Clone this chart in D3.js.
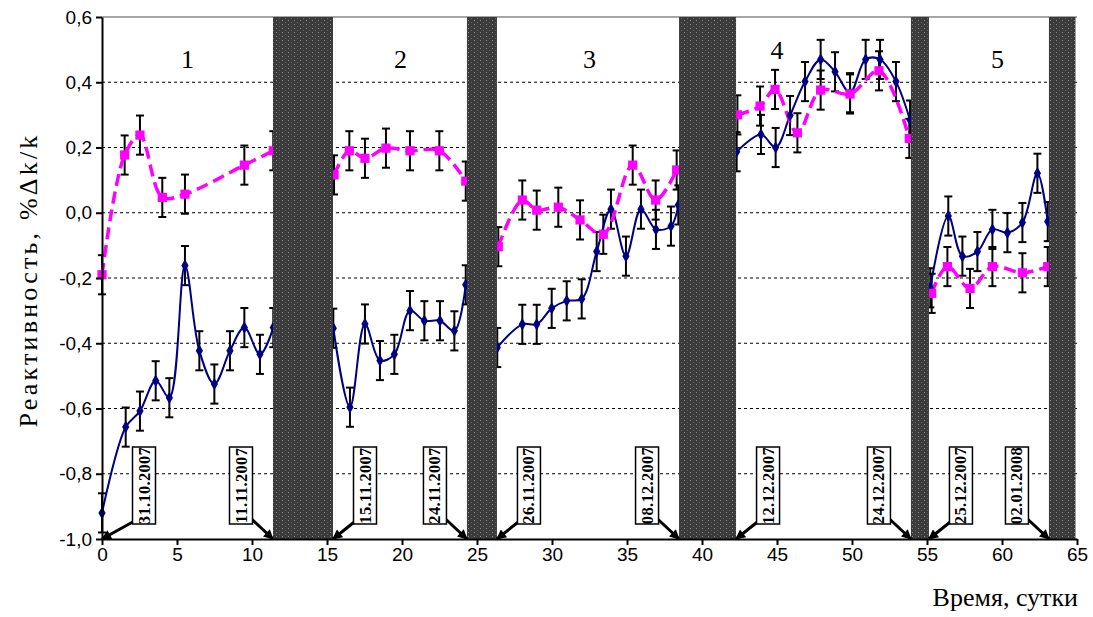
<!DOCTYPE html>
<html>
<head>
<meta charset="utf-8">
<script src="https://cdn.jsdelivr.net/npm/d3@7"></script>
<style>
body { margin: 0; background: #fff; }
.axis text { font: 19px "Liberation Sans", Arial, sans-serif; fill: #000; }
.axis path, .axis line { stroke: #000; stroke-width: 2px; }
.title { font-family: "Liberation Serif", "Times New Roman", serif; font-size: 26px; }
.datelbl { font: bold 16.5px "Liberation Serif", "Times New Roman", serif; letter-spacing: 0.3px; }
</style>
</head>
<body>
<svg id="chart" width="1093" height="617"></svg>
<script>
// ---- данные ----
var xTicks = [0, 5, 10, 15, 20, 25, 30, 35, 40, 45, 50, 55, 60, 65];
var yTicks = [-1.0, -0.8, -0.6, -0.4, -0.2, 0.0, 0.2, 0.4, 0.6];
var gridValues = [-0.8, -0.6, -0.4, -0.2, 0.0, 0.2, 0.4];

// периоды измерений (сутки) и остановки между ними
var segDays = [[0, 11.4], [15.4, 24.33], [26.33, 38.47], [42.27, 53.93], [55.13, 63.13]];
var pauseBands = [[11.4, 15.4], [24.33, 26.33], [38.47, 42.27], [53.93, 55.13], [63.13, 64.9]];
var segNames = ["1", "2", "3", "4", "5"];
var segNameDay = [5.7, 19.9, 32.5, 45.0, 59.7];
var segNameVal = [0.444, 0.444, 0.444, 0.471, 0.444];
var dateTexts = ["31.10.2007", "11.11.2007", "15.11.2007", "24.11.2007", "26.11.2007",
                 "08.12.2007", "12.12.2007", "24.12.2007", "25.12.2007", "02.01.2008"];

// [сутки, реактивность, погрешность]
var blue = [
  [[0, -0.92, 0.06], [1.58, -0.657, 0.06], [2.53, -0.608, 0.06], [3.58, -0.515, 0.06], [4.49, -0.567, 0.06],
   [5.53, -0.162, 0.06], [6.49, -0.423, 0.06], [7.49, -0.525, 0.06], [8.53, -0.423, 0.06], [9.49, -0.352, 0.06],
   [10.53, -0.434, 0.06], [11.42, -0.352, 0.06]],
  [[15.42, -0.354, 0.06], [16.53, -0.596, 0.06], [17.53, -0.341, 0.06], [18.53, -0.453, 0.06], [19.49, -0.434, 0.06],
   [20.53, -0.30, 0.06], [21.49, -0.331, 0.06], [22.53, -0.331, 0.06], [23.49, -0.362, 0.06], [24.25, -0.221, 0.06]],
  [[26.35, -0.413, 0.06], [28.02, -0.342, 0.06], [28.98, -0.342, 0.06], [29.98, -0.293, 0.06], [30.98, -0.27, 0.06],
   [31.98, -0.264, 0.06], [32.98, -0.119, 0.06], [33.93, 0.011, 0.06], [34.93, -0.133, 0.06], [35.93, 0.011, 0.06],
   [36.93, -0.051, 0.06], [37.93, -0.041, 0.06], [38.42, 0.024, 0.06]],
  [[42.31, 0.187, 0.06], [43.93, 0.24, 0.06], [44.91, 0.20, 0.06], [45.87, 0.298, 0.06], [46.87, 0.402, 0.06],
   [47.91, 0.47, 0.06], [48.87, 0.432, 0.06], [49.87, 0.368, 0.06], [50.91, 0.47, 0.06], [51.87, 0.47, 0.06],
   [52.93, 0.402, 0.06], [53.87, 0.284, 0.06]],
  [[55.22, -0.23, 0.06], [56.42, -0.01, 0.06], [57.36, -0.133, 0.06], [58.36, -0.119, 0.06], [59.36, -0.051, 0.06],
   [60.36, -0.061, 0.06], [61.36, -0.03, 0.06], [62.36, 0.121, 0.06], [63.05, -0.027, 0.06]]
];

var magenta = [
  [[0, -0.19, 0.06], [1.51, 0.177, 0.06], [2.53, 0.238, 0.06], [4.02, 0.047, 0.06], [5.53, 0.057, 0.06],
   [9.49, 0.146, 0.06], [11.42, 0.19, 0.06]],
  [[15.47, 0.116, 0.06], [16.49, 0.19, 0.06], [17.53, 0.167, 0.06], [18.93, 0.198, 0.06], [20.53, 0.19, 0.06],
   [22.49, 0.19, 0.06], [24.25, 0.097, 0.06]],
  [[26.42, -0.104, 0.06], [28.02, 0.039, 0.06], [28.98, 0.008, 0.06], [30.42, 0.017, 0.06], [31.87, -0.022, 0.06],
   [33.42, -0.066, 0.06], [35.38, 0.146, 0.06], [36.91, 0.039, 0.06], [38.31, 0.131, 0.06]],
  [[42.36, 0.30, 0.06], [43.87, 0.327, 0.06], [44.87, 0.378, 0.06], [46.36, 0.245, 0.06], [47.91, 0.376, 0.06],
   [49.87, 0.364, 0.06], [51.8, 0.435, 0.06], [53.82, 0.228, 0.06]],
  [[55.31, -0.247, 0.06], [56.36, -0.165, 0.06], [57.87, -0.232, 0.06], [59.36, -0.165, 0.06], [61.36, -0.184, 0.06],
   [63.05, -0.165, 0.06]]
];

// ---- построение ----
var svg = d3.select("#chart");
svg.append("rect").attr("width", 1093).attr("height", 617).attr("fill", "#fff");

var x = d3.scaleLinear().domain([0, 65]).range([102, 1077]);
var y = d3.scaleLinear().domain([-1, 0.6]).range([539, 17]);

var defs = svg.append("defs");
var pat = defs.append("pattern").attr("id", "hatch")
    .attr("patternUnits", "userSpaceOnUse").attr("width", 6).attr("height", 4);
pat.append("rect").attr("width", 6).attr("height", 4).attr("fill", "#3b3b3b");
pat.append("rect").attr("x", 0).attr("y", 0).attr("width", 1).attr("height", 1).attr("fill", "#8c8c8c");
pat.append("rect").attr("x", 3).attr("y", 2).attr("width", 1).attr("height", 1).attr("fill", "#666");

defs.append("marker").attr("id", "arr")
    .attr("viewBox", "0 0 10 10").attr("refX", 9).attr("refY", 5)
    .attr("markerWidth", 12).attr("markerHeight", 10)
    .attr("markerUnits", "userSpaceOnUse").attr("orient", "auto")
  .append("path").attr("d", "M0,0L10,5L0,10z").attr("fill", "#000");

// сетка
svg.append("g").selectAll("line").data(gridValues).enter().append("line")
    .attr("x1", x(0)).attr("x2", x(65))
    .attr("y1", function(d) { return y(d); }).attr("y2", function(d) { return y(d); })
    .attr("stroke", "#000").attr("stroke-width", 1).attr("stroke-dasharray", "3,3");

// верхняя рамка
svg.append("line").attr("x1", x(0)).attr("x2", x(65)).attr("y1", y(0.6)).attr("y2", y(0.6))
    .attr("stroke", "#a6a6a6").attr("stroke-width", 2);

var line = d3.line()
    .x(function(d) { return x(d[0]); })
    .y(function(d) { return y(d[1]); })
    .curve(d3.curveCatmullRom.alpha(0.5));

function errorBars(series) {
  var g = svg.append("g").attr("stroke", "#000").attr("stroke-width", 2);
  series.forEach(function(seg) {
    seg.forEach(function(d) {
      var cx = x(d[0]), y1 = y(d[1] + d[2]), y2 = y(d[1] - d[2]);
      g.append("line").attr("x1", cx).attr("x2", cx).attr("y1", y1).attr("y2", y2);
      g.append("line").attr("x1", cx - 4).attr("x2", cx + 4).attr("y1", y1).attr("y2", y1);
      g.append("line").attr("x1", cx - 4).attr("x2", cx + 4).attr("y1", y2).attr("y2", y2);
    });
  });
}
errorBars(blue);
errorBars(magenta);

blue.forEach(function(seg) {
  svg.append("path").attr("d", line(seg)).attr("fill", "none")
      .attr("stroke", "#000080").attr("stroke-width", 2);
});
magenta.forEach(function(seg) {
  svg.append("path").attr("d", line(seg)).attr("fill", "none")
      .attr("stroke", "#ff00ff").attr("stroke-width", 3.5).attr("stroke-dasharray", "12,6");
});

var diamond = d3.symbol().type(d3.symbolDiamond).size(45);
var square = d3.symbol().type(d3.symbolSquare).size(85);
blue.forEach(function(seg) {
  svg.append("g").selectAll("path").data(seg).enter().append("path")
      .attr("d", diamond)
      .attr("transform", function(d) { return "translate(" + x(d[0]) + "," + y(d[1]) + ")"; })
      .attr("fill", "#000080");
});
magenta.forEach(function(seg) {
  svg.append("g").selectAll("path").data(seg).enter().append("path")
      .attr("d", square)
      .attr("transform", function(d) { return "translate(" + x(d[0]) + "," + y(d[1]) + ")"; })
      .attr("fill", "#ff00ff");
});

// остановки реактора
svg.append("g").selectAll("rect").data(pauseBands).enter().append("rect")
    .attr("x", function(d) { return x(d[0]); })
    .attr("width", function(d) { return x(d[1]) - x(d[0]); })
    .attr("y", y(0.6)).attr("height", y(-1) - y(0.6))
    .attr("fill", "url(#hatch)");

// оси
var fmt = function(d) { return d3.format(".1f")(d).replace(".", ",").replace("\u2212", "-"); };
svg.append("g").attr("class", "axis")
    .attr("transform", "translate(" + x(0) + ",0)")
    .call(d3.axisLeft(y).tickValues(yTicks).tickSize(6).tickSizeOuter(0).tickPadding(4).tickFormat(fmt));
svg.append("g").attr("class", "axis")
    .attr("transform", "translate(0," + y(-1) + ")")
    .call(d3.axisBottom(x).tickValues(xTicks).tickSize(6).tickSizeOuter(0).tickPadding(3));

// номера периодов
svg.append("g").selectAll("text").data(segNames).enter().append("text")
    .attr("class", "title")
    .attr("x", function(d, i) { return x(segNameDay[i]); })
    .attr("y", function(d, i) { return y(segNameVal[i]); })
    .attr("text-anchor", "middle")
    .text(function(d) { return d; });

// подписи дат со стрелками
var targets = [];
segDays.forEach(function(s) { targets.push(s[0], s[1]); });
var bw = 23, bh = 77, bBottom = 524;
var dl = svg.append("g");
dateTexts.forEach(function(t, i) {
  var side = i % 2 === 0 ? 1 : -1;
  var off = i === 0 ? 42 : 32;
  var tx = x(targets[i]);
  var cx = tx + side * off;
  var sx = side > 0 ? cx - bw / 2 + 2 : cx + bw / 2 - 2;
  var sy = side > 0 ? bBottom - 3 : bBottom - 6;
  dl.append("line").attr("x1", sx).attr("y1", sy).attr("x2", tx).attr("y2", y(-1))
      .attr("stroke", "#000").attr("stroke-width", 3).attr("marker-end", "url(#arr)");
  dl.append("rect").attr("x", cx - bw / 2).attr("y", bBottom - bh)
      .attr("width", bw).attr("height", bh)
      .attr("fill", "#fff").attr("stroke", "#000").attr("stroke-width", 1.5);
  dl.append("text").attr("class", "datelbl")
      .attr("transform", "translate(" + (cx + 5.5) + "," + (bBottom - bh / 2) + ") rotate(-90)")
      .attr("text-anchor", "middle")
      .text(t);
});

// подписи осей
svg.append("text").attr("class", "title")
    .attr("transform", "translate(37,280) rotate(-90)")
    .attr("text-anchor", "middle")
    .attr("letter-spacing", "3.2px")
    .text("Реактивность, %Δk/k");
svg.append("text").attr("class", "title")
    .attr("x", 1078).attr("y", 606)
    .attr("text-anchor", "end")
    .text("Время, сутки");
</script>
</body>
</html>
